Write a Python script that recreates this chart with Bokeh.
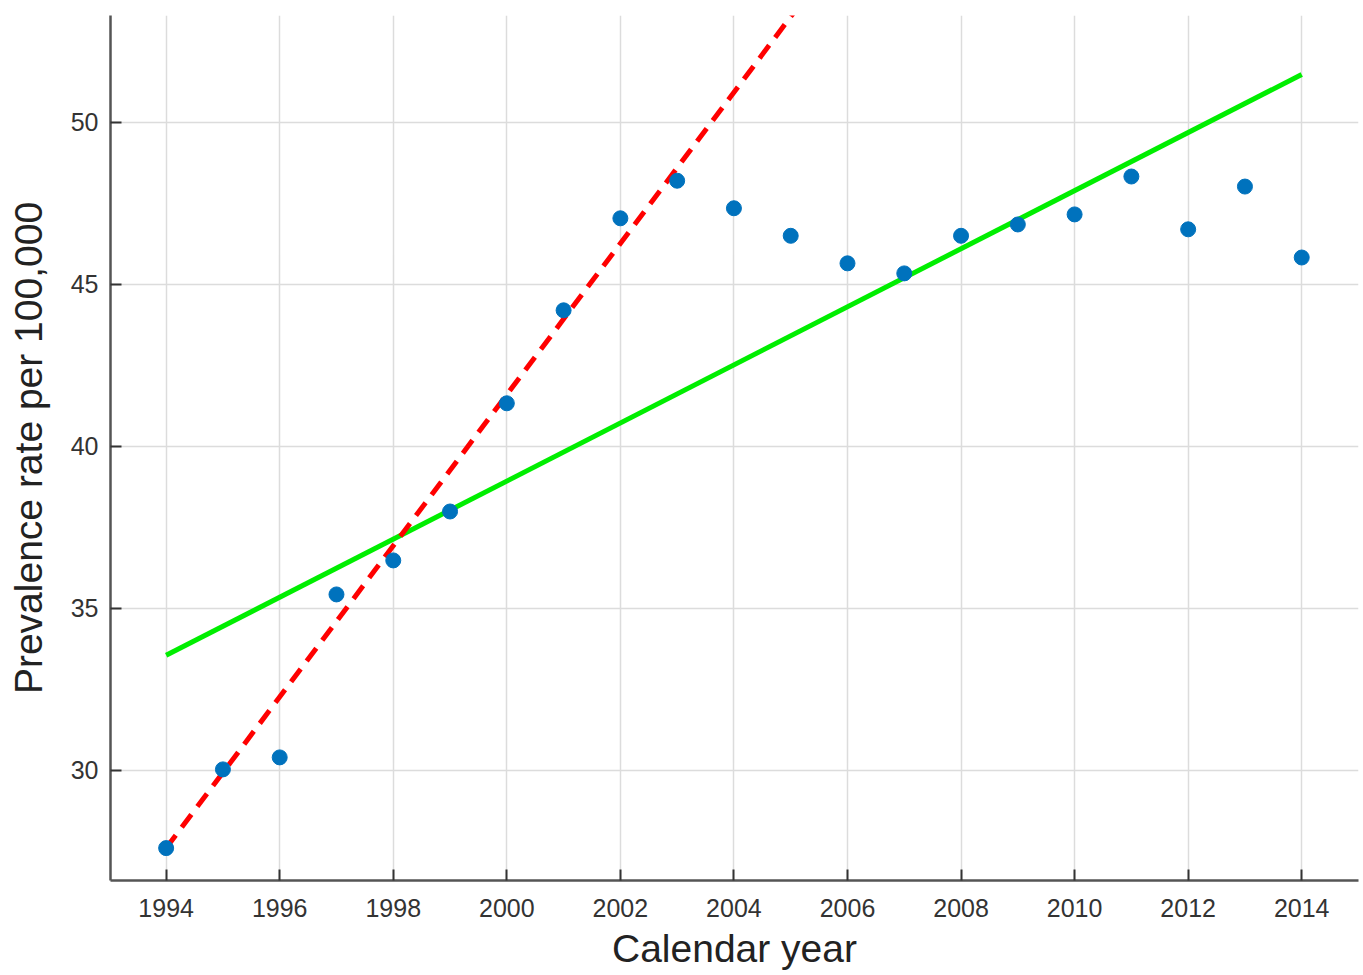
from bokeh.plotting import figure
from bokeh.embed import file_html
from bokeh.resources import INLINE
from bokeh.models import Range1d, FixedTicker

# Data
years = [1994, 1995, 1996, 1997, 1998, 1999, 2000, 2001, 2002, 2003, 2004,
         2005, 2006, 2007, 2008, 2009, 2010, 2011, 2012, 2013, 2014]
prevalence = [27.6, 30.03, 30.4, 35.43, 36.48, 37.99, 41.33, 44.2, 47.04, 48.2, 47.35,
              46.5, 45.65, 45.34, 46.5, 46.85, 47.16, 48.33, 46.7, 48.02, 45.83]

# Fitted trend lines (intercept at start year, slope per year)
overall_fit_start, overall_fit_end = 1994, 2014
overall_intercept, overall_slope = 33.55, 0.8965
early_fit_start, early_fit_end = 1994, 2005.04
early_intercept, early_slope = 27.6, 2.333

x_ticks = [1994, 1996, 1998, 2000, 2002, 2004, 2006, 2008, 2010, 2012, 2014]
y_ticks = [30, 35, 40, 45, 50]

FONT = "Liberation Sans"

p = figure(width=1360, height=973, output_backend="svg", toolbar_location=None,
           x_range=Range1d(1993.02, 2015.0), y_range=Range1d(26.6, 53.3),
           min_border_left=110, min_border_top=15, min_border_right=2, min_border_bottom=93)
p.outline_line_color = None

# grid
p.xgrid.ticker = FixedTicker(ticks=x_ticks)
p.ygrid.ticker = FixedTicker(ticks=y_ticks)
for g in (p.xgrid, p.ygrid):
    g.grid_line_color = "#dcdcdc"
    g.grid_line_width = 1.5

# axes
p.xaxis.ticker = FixedTicker(ticks=x_ticks)
p.yaxis.ticker = FixedTicker(ticks=y_ticks)
for ax in (p.xaxis, p.yaxis):
    ax.axis_line_color = "#555555"
    ax.axis_line_width = 2.5
    ax.major_tick_line_color = "#333333"
    ax.major_tick_line_width = 2
    ax.major_tick_in = 11
    ax.major_tick_out = 0
    ax.minor_tick_line_color = None
    ax.major_label_text_font = FONT
    ax.major_label_text_font_size = "25px"
    ax.major_label_text_color = "#333333"
    ax.axis_label_text_font = FONT
    ax.axis_label_text_font_size = "39px"
    ax.axis_label_text_font_style = "normal"
    ax.axis_label_text_color = "#222222"
p.xaxis.axis_label = "Calendar year"
p.yaxis.axis_label = "Prevalence rate per 100,000"
p.xaxis.major_label_standoff = 18
p.yaxis.major_label_standoff = 12
p.xaxis.axis_label_standoff = 7
p.yaxis.axis_label_standoff = 18

# fit lines
gx = [overall_fit_start, overall_fit_end]
gy = [overall_intercept + overall_slope * (x - overall_fit_start) for x in gx]
p.line(gx, gy, line_color="#00ee00", line_width=5)

rx = [early_fit_start, early_fit_end]
ry = [early_intercept + early_slope * (x - early_fit_start) for x in rx]
p.line(rx, ry, line_color="#ff0000", line_width=5, line_dash="16 10")

# data points
p.scatter(years, prevalence, size=15, fill_color="#0072bd", line_color="#0072bd")

open("out.html", "w").write(file_html(p, INLINE))
